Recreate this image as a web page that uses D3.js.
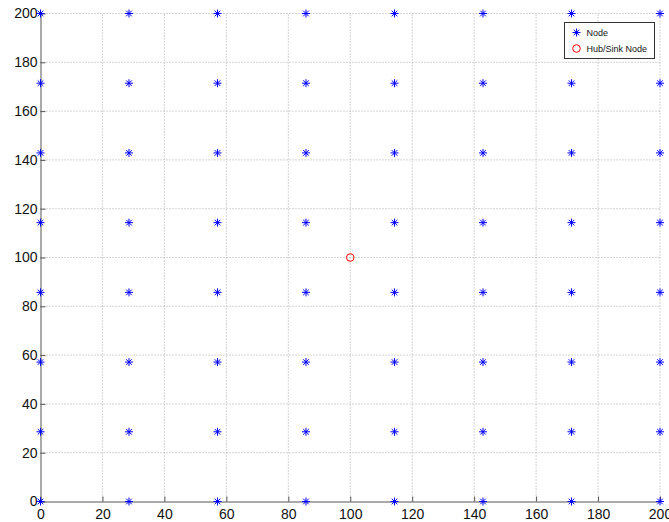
<!DOCTYPE html>
<html><head><meta charset="utf-8">
<script src="https://cdn.jsdelivr.net/npm/d3@7"></script>
<style>body{margin:0;background:#fff}svg{display:block}</style>
</head><body>
<svg id="c" width="669" height="522"></svg>
<script>
const nodeX = [0, 28.57, 57.14, 85.71, 114.29, 142.86, 171.43, 200];
const nodeY = [0, 28.57, 57.14, 85.71, 114.29, 142.86, 171.43, 200];
const hub = [[100, 100]];
const xTicks = [0, 20, 40, 60, 80, 100, 120, 140, 160, 180, 200];
const yTicks = [0, 20, 40, 60, 80, 100, 120, 140, 160, 180, 200];
const legendLabels = ["Node", "Hub/Sink Node"];

const svg = d3.select("#c");
const m = {l: 40.5, r: 9, t: 13.5, b: 20.5};
const W = 669, H = 522;
const x = d3.scaleLinear().domain([0, 200]).range([m.l, W - m.r]);
const y = d3.scaleLinear().domain([0, 200]).range([H - m.b, m.t]);

// grid
const g = svg.append("g");
g.selectAll(".vx").data(xTicks.slice(1)).join("line")
  .attr("x1", d => x(d)).attr("x2", d => x(d)).attr("y1", y(0)).attr("y2", y(200))
  .attr("stroke", "#aaa").attr("stroke-dasharray", "1,2").attr("stroke-width", 1);
g.selectAll(".hy").data(yTicks.slice(1)).join("line")
  .attr("x1", x(0)).attr("x2", x(200)).attr("y1", d => y(d)).attr("y2", d => y(d))
  .attr("stroke", "#aaa").attr("stroke-dasharray", "1,2").attr("stroke-width", 1);

// axes
const xa = svg.append("g").attr("transform", `translate(0,${y(0)})`)
  .call(d3.axisBottom(x).tickValues(xTicks).tickSize(-5).tickPadding(8).tickSizeOuter(0));
const ya = svg.append("g").attr("transform", `translate(${x(0)},0)`)
  .call(d3.axisLeft(y).tickValues(yTicks).tickSize(-5).tickPadding(3).tickSizeOuter(0));
[xa, ya].forEach(a => {
  a.select(".domain").attr("stroke", "#555");
  a.selectAll(".tick line").attr("stroke", "#555");
  a.selectAll("text").attr("font-family", "Liberation Sans, Arial, sans-serif")
    .attr("font-size", 14).attr("fill", "#111");
});

// nodes
const pts = [];
nodeX.forEach(a => nodeY.forEach(b => pts.push([a, b])));
const s = 4;
const star = `M${-s},0H${s}M0,${-s}V${s}M${-s*0.7},${-s*0.7}L${s*0.7},${s*0.7}M${-s*0.7},${s*0.7}L${s*0.7},${-s*0.7}`;
svg.append("g").selectAll("path").data(pts).join("path")
  .attr("transform", d => `translate(${x(d[0])},${y(d[1])})`)
  .attr("d", star).attr("stroke", "#0000ff").attr("stroke-width", 1).attr("fill", "none");

svg.append("g").selectAll("circle").data(hub).join("circle")
  .attr("cx", d => x(d[0])).attr("cy", d => y(d[1])).attr("r", 3.8)
  .attr("fill", "none").attr("stroke", "#ff0000").attr("stroke-width", 1);

// legend
const lg = svg.append("g").attr("transform", "translate(564.5,22.5)");
lg.append("rect").attr("width", 90).attr("height", 36).attr("fill", "#fff")
  .attr("stroke", "#333").attr("stroke-width", 1);
lg.append("path").attr("transform", "translate(12,10)").attr("d", star)
  .attr("stroke", "#0000ff").attr("fill", "none");
lg.append("circle").attr("cx", 12).attr("cy", 26).attr("r", 3.8)
  .attr("fill", "none").attr("stroke", "#ff0000");
lg.selectAll("text").data(legendLabels).join("text")
  .attr("x", 22).attr("y", (d, i) => 13 + i * 16).text(d => d)
  .attr("font-family", "Liberation Sans, Arial, sans-serif").attr("font-size", 9).attr("fill", "#111");
</script>
</body></html>
